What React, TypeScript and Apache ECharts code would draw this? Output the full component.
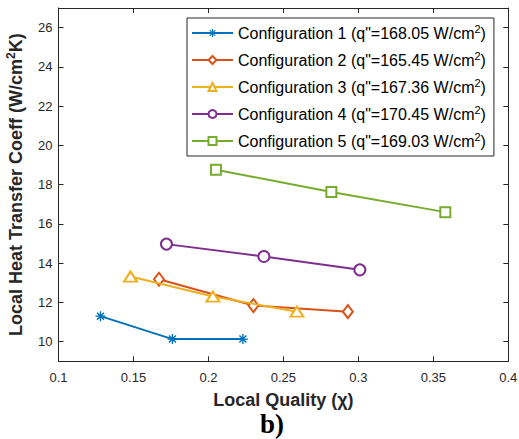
import React, { useEffect, useRef } from "react";
import * as echarts from "echarts";

const configNames = ["Configuration 1", "Configuration 2", "Configuration 3", "Configuration 4", "Configuration 5"];
const heatFluxes = ["168.05", "165.45", "167.36", "170.45", "169.03"];
const colors = ["#0072BD", "#D95319", "#EDB120", "#7E2F8E", "#77AC30"];

const config1X = [0.128, 0.176, 0.223];
const config1Y = [11.3, 10.13, 10.13];
const config2X = [0.167, 0.23, 0.293];
const config2Y = [13.18, 11.84, 11.53];
const config3X = [0.148, 0.203, 0.259];
const config3Y = [13.32, 12.3, 11.53];
const config4X = [0.172, 0.237, 0.301];
const config4Y = [14.97, 14.34, 13.66];
const config5X = [0.205, 0.282, 0.358];
const config5Y = [18.76, 17.63, 16.6];

const xTicks = [0.1, 0.15, 0.2, 0.25, 0.3, 0.35, 0.4];
const yTicks = [10, 12, 14, 16, 18, 20, 22, 24, 26];

const asterisk =
  "path://M4.3 0 L5.7 0 L5.7 10 L4.3 10 Z M0 4.3 L10 4.3 L10 5.7 L0 5.7 Z M1 2 L2 1 L9 8 L8 9 Z M8 1 L9 2 L2 9 L1 8 Z";

const symbols = [asterisk, "emptyDiamond", "emptyTriangle", "emptyCircle", "emptyRect"];
const symbolSizes: any[] = [10, [10, 13], [13, 10], 11, 10];
const xs = [config1X, config2X, config3X, config4X, config5X];
const ys = [config1Y, config2Y, config3Y, config4Y, config5Y];

const FONT = "Liberation Sans, Arial, sans-serif";
const AXIS_COLOR = "#262626";

export default function App() {
  const ref = useRef<HTMLDivElement>(null);
  useEffect(() => {
    if (!ref.current) return;
    const chart = echarts.init(ref.current, undefined, { renderer: "svg" });
    const series = configNames.map((name, i) => ({
      name,
      type: "line",
      xAxisIndex: 0,
      yAxisIndex: 0,
      data: xs[i].map((x, j) => [x, ys[i][j]]),
      symbol: symbols[i],
      symbolSize: symbolSizes[i],
      showAllSymbol: true,
      lineStyle: { color: colors[i], width: 2 },
      itemStyle: i === 0
        ? { color: colors[i] }
        : { color: colors[i], borderColor: colors[i], borderWidth: 2 },
      z: 2 + i,
    }));
    const commonAxisLine = { show: true, lineStyle: { color: AXIS_COLOR, width: 1 } };
    chart.setOption({
      animation: false,
      backgroundColor: "#ffffff",
      grid: {
        left: 58.5,
        right: 10.7,
        top: 8,
        bottom: 77.7,
        containLabel: false,
        outerBoundsMode: "none",
      },
      legend: {
        orient: "vertical",
        left: 187,
        top: 18,
        padding: [5, 8, 5, 4],
        itemGap: 7,
        itemWidth: 41,
        itemHeight: 10,
        backgroundColor: "#ffffff",
        borderColor: AXIS_COLOR,
        borderWidth: 1,
        data: configNames,
        formatter: (name: string) => {
          const i = configNames.indexOf(name);
          return `${name} (q"=${heatFluxes[i]} W/cm{sup|2})`;
        },
        textStyle: {
          fontFamily: FONT,
          fontSize: 16,
          color: "#000000",
          lineHeight: 20,
          rich: {
            sup: { fontFamily: FONT, fontSize: 11, lineHeight: 10, verticalAlign: "top", color: "#000000" },
          },
        },
      },
      xAxis: [
        {
          type: "value",
          position: "bottom",
          min: 0.1,
          max: 0.4,
          interval: 0.05,
          name: "Local Quality (χ)",
          nameLocation: "middle",
          nameGap: 30,
          nameTextStyle: { fontFamily: FONT, fontSize: 18, fontWeight: "bold", color: AXIS_COLOR },
          axisLine: commonAxisLine,
          axisTick: { show: true, inside: true, length: 5, lineStyle: { color: AXIS_COLOR } },
          axisLabel: {
            show: true,
            margin: 10,
            fontFamily: FONT,
            fontSize: 13,
            color: AXIS_COLOR,
            customValues: xTicks,
            formatter: (v: number) => String(parseFloat(v.toFixed(2))),
          },
          splitLine: { show: false },
        },
        {
          type: "value",
          position: "top",
          min: 0.1,
          max: 0.4,
          interval: 0.05,
          axisLine: commonAxisLine,
          axisTick: { show: true, inside: true, length: 5, lineStyle: { color: AXIS_COLOR } },
          axisLabel: { show: false },
          splitLine: { show: false },
        },
      ],
      yAxis: [
        {
          type: "value",
          position: "left",
          min: 9,
          max: 27,
          name: "Local Heat Transfer Coeff (W/cm{sup|2}K)",
          nameLocation: "middle",
          nameGap: 26,
          nameTextStyle: {
            fontFamily: FONT,
            fontSize: 18,
            fontWeight: "bold",
            color: AXIS_COLOR,
            lineHeight: 22,
            rich: {
              sup: { fontFamily: FONT, fontSize: 12, fontWeight: "bold", lineHeight: 10, verticalAlign: "top", color: AXIS_COLOR },
            },
          },
          axisLine: commonAxisLine,
          axisTick: { show: true, inside: true, length: 5, lineStyle: { color: AXIS_COLOR }, customValues: yTicks },
          axisLabel: {
            show: true,
            margin: 6,
            fontFamily: FONT,
            fontSize: 13,
            color: AXIS_COLOR,
            customValues: yTicks,
          },
          splitLine: { show: false },
        },
        {
          type: "value",
          position: "right",
          min: 9,
          max: 27,
          axisLine: commonAxisLine,
          axisTick: { show: true, inside: true, length: 5, lineStyle: { color: AXIS_COLOR }, customValues: yTicks },
          axisLabel: { show: false },
          splitLine: { show: false },
        },
      ],
      graphic: [
        {
          type: "text",
          left: 260,
          top: 410,
          style: {
            text: "b)",
            fontFamily: "Liberation Serif, Times New Roman, serif",
            fontSize: 27,
            fontWeight: "bold",
            fill: "#000000",
          },
        },
      ],
      series,
    });
    return () => chart.dispose();
  }, []);
  return <div ref={ref} style={{ width: 519, height: 439, position: "absolute", left: 0, top: 0 }} />;
}
